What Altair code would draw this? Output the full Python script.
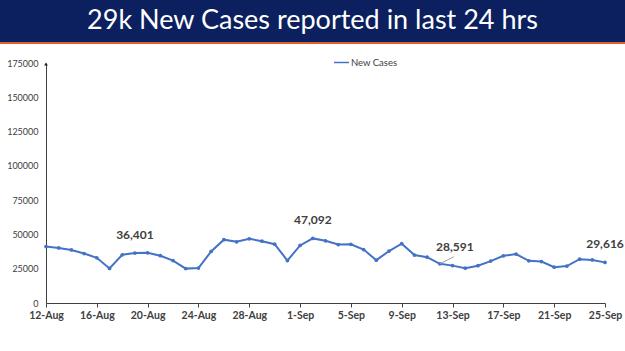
import altair as alt
import pandas as pd

# ---- data ----
dates = [d.strftime("%Y-%m-%d") for d in pd.date_range("2021-08-12", "2021-09-25")]
new_cases = [41195, 40120, 38667, 36083, 32937, 25166, 35178, 36401, 36571, 34457,
             30948, 25072, 25467, 37593, 46164, 44658, 46759, 45083, 42909, 30941,
             41965, 47092, 45352, 42618, 42766, 38948, 31222, 37875, 43263, 34973,
             33376, 28591, 27254, 25404, 27176, 30570, 34403, 35662, 30773, 30256,
             26115, 26964, 31923, 31382, 29616]
series_name = "New Cases"
y_ticks = [0, 25000, 50000, 75000, 100000, 125000, 150000, 175000]
x_tick_dates = dates[::4]
ann_dates = ["2021-08-19", "2021-09-02", "2021-09-12", "2021-09-25"]
ann_labels = ["36,401", "47,092", "28,591", "29,616"]
ann_leader = [False, False, True, False]
title_text = "29k New Cases reported in last 24 hrs"

df = pd.DataFrame({"date": dates, "cases": new_cases, "series": series_name})
ann = pd.DataFrame({"date": ann_dates, "label": ann_labels, "leader": ann_leader})
ann["cases"] = [new_cases[dates.index(d)] for d in ann_dates]


def dt(s):
    y, m, d = map(int, s.split("-"))
    return alt.DateTime(year=y, month=m, date=d, utc=True)


BLUE = "#4472C4"
TXT = "#404040"
FONT = "Lato"

x_enc = alt.X(
    "date:T", timeUnit="utcyearmonthdate",
    scale=alt.Scale(type="utc", domain=[dt(dates[0]), dt(dates[-1])], nice=False),
    axis=alt.Axis(values=[dt(s) for s in x_tick_dates], format="%-d-%b", title=None,
                  grid=False, domainColor="#404040", tickColor="#404040", tickSize=4,
                  labelFont=FONT, labelFontWeight="bold", labelFontSize=10.5,
                  labelColor=TXT, labelPadding=3, labelFlush=False, labelOverlap=False),
)
y_enc = alt.Y(
    "cases:Q", scale=alt.Scale(domain=[0, 175000], nice=False, zero=True),
    axis=alt.Axis(values=y_ticks, format="d", title=None, grid=False, ticks=False,
                  domainColor="#404040", labelFont=FONT, labelFontSize=9,
                  labelColor=TXT, labelPadding=8, labelOverlap=False, labelFlush=False),
)

base = alt.Chart(df)
line = base.mark_line(strokeWidth=2, point=alt.OverlayMarkDef(size=14, filled=True, color=BLUE, opacity=1)).encode(
    x=x_enc, y=y_enc,
    color=alt.Color("series:N", scale=alt.Scale(domain=[series_name], range=[BLUE]),
                    legend=alt.Legend(title=None, orient="none", legendX=287, legendY=-9,
                                      symbolType="stroke", symbolSize=225, symbolStrokeWidth=1.5,
                                      labelFont=FONT, labelFontSize=9.5, labelColor=TXT,
                                      labelOffset=1)),
)

annb = alt.Chart(ann)
labels = annb.transform_filter("!datum.leader").mark_text(
    font=FONT, fontWeight="bold", fontSize=12, color=TXT, dy=-11, baseline="bottom"
).encode(x=x_enc, y=y_enc, text="label:N")
labels2 = annb.transform_filter("datum.leader").mark_text(
    font=FONT, fontWeight="bold", fontSize=12, color=TXT, dx=15, dy=-10, baseline="bottom"
).encode(x=x_enc, y=y_enc, text="label:N")
leader = annb.transform_filter("datum.leader").mark_rule(
    color="#A0A0A0", strokeWidth=1, x2Offset=14, y2Offset=-7
).encode(x=x_enc, y=y_enc, x2=alt.X2("date:T"), y2=alt.Y2("cases:Q"))

one = pd.DataFrame({"k": [0]})
banner = alt.Chart(one).mark_rect(color="#0C1F5E").encode(
    x=alt.value(-46), x2=alt.value(579), y=alt.value(-63), y2=alt.value(-21))
orange = alt.Chart(one).mark_rule(color="#E0602E", strokeWidth=2).encode(
    x=alt.value(-46), x2=alt.value(579), y=alt.value(-20))
title = alt.Chart(one).mark_text(
    text=title_text, font=FONT, fontSize=27, color="white", align="center", baseline="middle"
).encode(x=alt.value(266.5), y=alt.value(-42))
arrow = alt.Chart(one).mark_point(shape="triangle-up", filled=True, size=14, color="#202020", opacity=1).encode(
    x=alt.value(0), y=alt.value(1))

chart = alt.layer(line, leader, labels, labels2, banner, orange, title, arrow).properties(
    width=559, height=240,
    padding={"left": 46, "top": 63, "right": 20, "bottom": 48},
    autosize=alt.AutoSizeParams(type="none"),
    background="white",
).configure_view(stroke=None)

chart.save("out.html", embed_options={"renderer": "svg", "actions": False})
